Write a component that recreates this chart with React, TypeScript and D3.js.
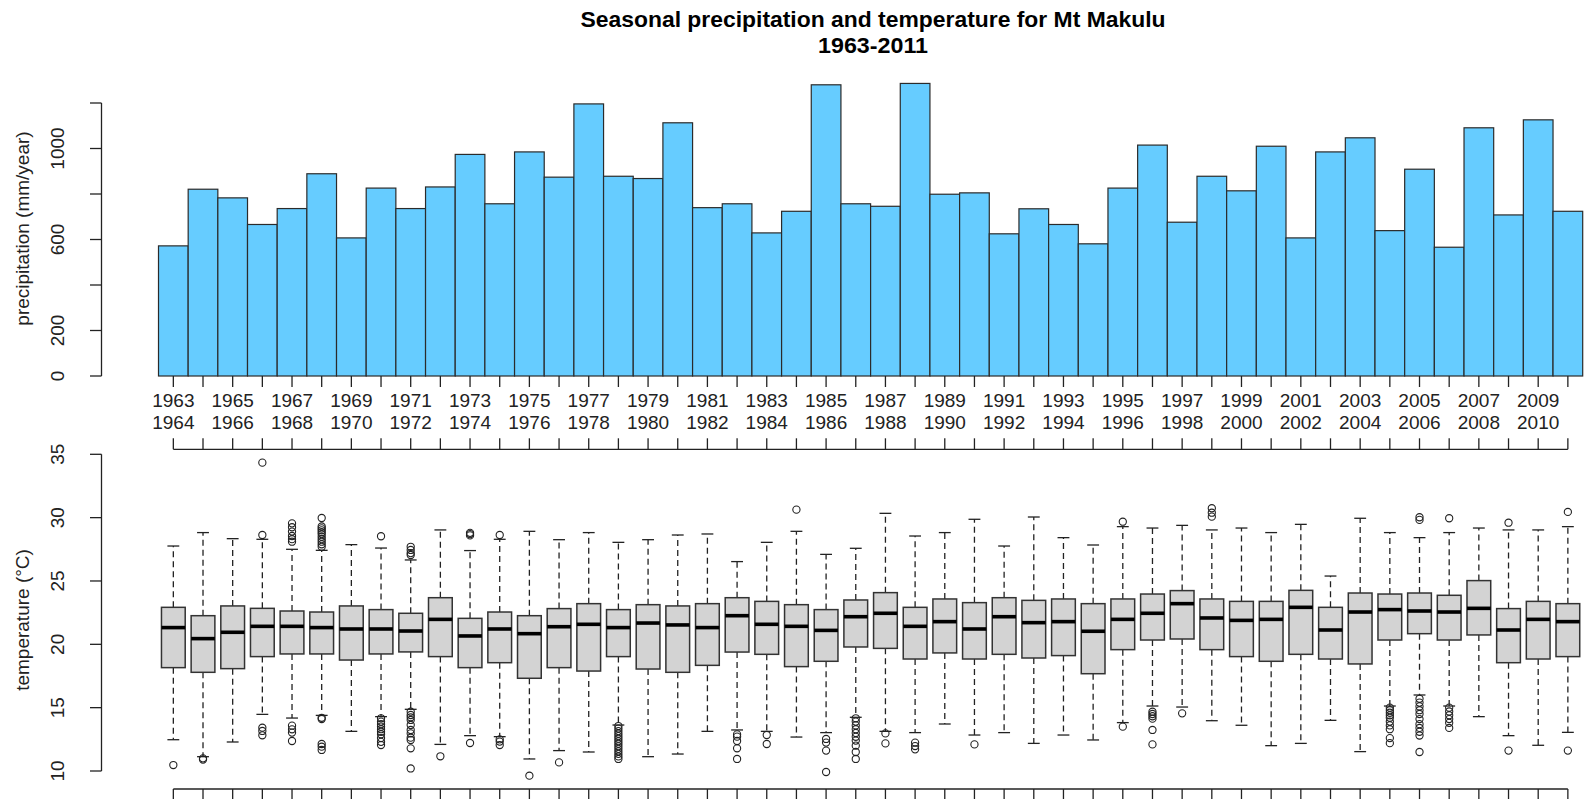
import React from "react";
import * as d3 from "d3";

// Seasons: first year of each rainy season (season runs into the next year)
const seasonStart = [
  1963, 1964, 1965, 1966, 1967, 1968, 1969, 1970, 1971, 1972, 1973, 1974,
  1975, 1976, 1977, 1978, 1979, 1980, 1981, 1982, 1983, 1984, 1985, 1986,
  1987, 1988, 1989, 1990, 1991, 1992, 1993, 1994, 1995, 1996, 1997, 1998,
  1999, 2000, 2001, 2002, 2003, 2004, 2005, 2006, 2007, 2008, 2009, 2010,
];

// Seasonal precipitation totals (mm/year)
const precipitation = [
  572, 821, 783, 666, 736, 889, 607, 826, 736, 831, 974, 757,
  985, 874, 1196, 878, 868, 1113, 740, 757, 629, 724, 1280, 757,
  746, 1286, 799, 805, 625, 735, 666, 581, 826, 1015, 676, 878,
  814, 1010, 607, 985, 1047, 639, 909, 566, 1091, 708, 1126, 724,
];

// Temperature box statistics per season (°C)
const tempLow = [
  12.47, 11.13, 12.29, 14.47, 14.18, 14.39, 13.13, 14.29, 14.87, 12.1, 12.79, 12.71,
  10.95, 11.61, 11.5, 13.63, 11.13, 11.34, 13.13, 13.24, 13.13, 12.68, 13.03, 14.24,
  13.13, 13.03, 13.71, 12.84, 13.03, 12.18, 12.84, 12.45, 13.82, 15.13, 15.05, 13.97,
  13.61, 12.0, 12.18, 14.0, 11.53, 15.13, 16.0, 15.13, 14.29, 12.79, 12.03, 13.05,
];
const tempQ1 = [
  18.16, 17.79, 18.08, 19.03, 19.24, 19.24, 18.76, 19.24, 19.4, 19.03, 18.16, 18.55,
  17.32, 18.16, 17.89, 19.03, 18.05, 17.79, 18.34, 19.39, 19.21, 18.24, 18.66, 19.79,
  19.68, 18.84, 19.32, 18.84, 19.21, 18.92, 19.11, 17.68, 19.58, 20.34, 20.42, 19.58,
  19.03, 18.66, 19.21, 18.84, 18.45, 20.34, 20.84, 20.34, 20.74, 18.55, 18.84, 19.03,
];
const tempMedian = [
  21.32, 20.45, 20.95, 21.42, 21.42, 21.32, 21.21, 21.21, 21.05, 21.97, 20.66, 21.21,
  20.84, 21.39, 21.58, 21.32, 21.68, 21.53, 21.32, 22.26, 21.58, 21.42, 21.1, 22.18,
  22.45, 21.42, 21.79, 21.21, 22.18, 21.71, 21.79, 21.03, 21.97, 22.45, 23.21, 22.08,
  21.89, 21.97, 22.92, 21.13, 22.55, 22.74, 22.63, 22.55, 22.84, 21.13, 21.97, 21.79,
];
const tempQ3 = [
  22.92, 22.26, 23.03, 22.84, 22.63, 22.55, 23.03, 22.74, 22.45, 23.68, 22.05, 22.55,
  22.26, 22.82, 23.21, 22.74, 23.13, 23.03, 23.21, 23.68, 23.39, 23.13, 22.74, 23.5,
  24.08, 22.92, 23.58, 23.29, 23.68, 23.47, 23.58, 23.21, 23.58, 23.97, 24.24, 23.58,
  23.39, 23.39, 24.26, 22.92, 24.05, 23.97, 24.05, 23.87, 25.03, 22.82, 23.39, 23.21,
];
const tempHigh = [
  27.76, 28.82, 28.34, 28.29, 27.5, 27.42, 27.87, 27.6, 26.66, 29.03, 27.4, 28.29,
  28.92, 28.26, 28.82, 28.05, 28.26, 28.63, 28.71, 26.53, 28.05, 28.92, 27.1, 27.58,
  30.34, 28.55, 28.82, 29.87, 27.76, 30.05, 28.42, 27.84, 29.29, 29.18, 29.39, 29.03,
  29.18, 28.82, 29.47, 25.39, 29.95, 28.82, 28.42, 28.82, 29.18, 29.03, 29.03, 29.29,
];
const tempOutliers = [
  [10.47],
  [11.0, 10.9],
  [],
  [34.34, 28.63, 13.42, 13.16, 12.82],
  [29.55, 29.24, 28.9, 28.55, 28.3, 28.1, 13.58, 13.29, 13.03, 12.37],
  [29.97, 29.3, 29.15, 29.0, 28.85, 28.7, 28.5, 28.3, 28.1, 27.9, 27.7, 14.2, 14.1, 12.13, 11.92, 11.66],
  [],
  [28.53, 14.16, 13.9, 13.7, 13.5, 13.3, 13.1, 12.9, 12.6, 12.3, 12.05],
  [27.7, 27.45, 27.2, 27.05, 14.68, 14.42, 14.24, 14.03, 13.63, 13.24, 12.97, 12.63, 12.45, 11.79, 10.2],
  [11.16],
  [28.8, 28.7, 28.6, 12.21],
  [28.63, 12.5, 12.32, 12.05],
  [9.63],
  [10.68],
  [],
  [13.55, 13.35, 13.15, 12.95, 12.75, 12.55, 12.35, 12.15, 11.95, 11.75, 11.55, 11.35, 11.15, 10.95],
  [],
  [],
  [],
  [12.89, 12.71, 12.37, 11.79, 10.95],
  [12.84, 12.13],
  [30.63],
  [12.53, 12.24, 11.61, 9.92],
  [14.16, 13.9, 13.6, 13.3, 13.0, 12.7, 12.4, 12.0, 11.5, 10.95],
  [12.97, 12.18],
  [12.24, 11.97, 11.71],
  [],
  [12.1],
  [],
  [],
  [],
  [],
  [29.68, 13.5],
  [14.68, 14.5, 14.32, 14.13, 13.24, 12.1],
  [14.55],
  [30.74, 30.39, 30.08],
  [],
  [],
  [],
  [],
  [],
  [15.0, 14.8, 14.6, 14.4, 14.2, 13.9, 13.6, 13.3, 12.6, 12.2],
  [30.03, 29.82, 15.7, 15.4, 15.1, 14.8, 14.5, 14.1, 13.7, 13.4, 13.1, 12.8, 11.5],
  [29.95, 15.0, 14.7, 14.4, 14.1, 13.8, 13.4],
  [],
  [29.6, 11.61],
  [],
  [30.45, 11.61],
];

// Axis ticks and labels
const precipTicks = [0, 200, 400, 600, 800, 1000, 1200];
const precipTickLabels = [0, 200, 600, 1000];
const tempTicks = [10, 15, 20, 25, 30, 35];

const titleLines = ["Seasonal precipitation and temperature for Mt Makulu", "1963-2011"];
const precipLabel = "precipitation (mm/year)";
const tempLabel = "temperature (°C)";

const W = 1591;
const H = 799;
const FONT = "'Liberation Sans', Arial, Helvetica, sans-serif";
const INK = "#222";

export default function App() {
  const idx = seasonStart.map((_, i) => i);
  const x = d3.scaleBand<number>().domain(idx).range([158.5, 1582.7]).padding(0);
  const bw = x.bandwidth();
  const cx = (i: number) => (x(i) as number) + bw / 2;

  const yP = d3.scaleLinear().domain([0, 1200]).range([376, 103]);
  const yT = d3.scaleLinear().domain([10, 35]).range([771, 454.3]);

  const axisX = 101.5;
  const firstC = cx(0);
  const lastC = cx(idx.length - 1);

  const boxHalf = (bw * 0.8) / 2;
  const stapleHalf = boxHalf / 2;
  const titleX = 873;

  return (
    <svg
      width={W}
      height={H}
      style={{ position: "absolute", left: 0, top: 0, background: "#fff" }}
      fontFamily={FONT}
    >
      <rect x={0} y={0} width={W} height={H} fill="#fff" />

      {/* Title */}
      <text x={titleX} y={27} textAnchor="middle" fontSize={22} fontWeight="bold" fill="#000"
        textLength={585} lengthAdjust="spacingAndGlyphs">
        {titleLines[0]}
      </text>
      <text x={titleX} y={53} textAnchor="middle" fontSize={22} fontWeight="bold" fill="#000"
        textLength={110} lengthAdjust="spacingAndGlyphs">
        {titleLines[1]}
      </text>

      {/* Precipitation bars */}
      <g>
        {precipitation.map((v, i) => (
          <rect
            key={i}
            x={x(i)}
            y={yP(v)}
            width={bw}
            height={yP(0) - yP(v)}
            fill="#66CCFF"
            stroke="#2b2b2b"
            strokeWidth={1.2}
          />
        ))}
      </g>

      {/* Precipitation y axis */}
      <g stroke={INK} strokeWidth={1.3}>
        <line x1={axisX} x2={axisX} y1={yP(0)} y2={yP(1200)} />
        {precipTicks.map((t) => (
          <line key={t} x1={axisX - 11.5} x2={axisX} y1={yP(t)} y2={yP(t)} />
        ))}
      </g>
      {precipTickLabels.map((t) => (
        <text key={t} transform={`translate(64,${yP(t)}) rotate(-90)`} textAnchor="middle"
          fontSize={19} fill={INK}>
          {t}
        </text>
      ))}
      <text transform={`translate(29,228.5) rotate(-90)`} textAnchor="middle" fontSize={19} fill={INK}>
        {precipLabel}
      </text>

      {/* Season axis under the bars */}
      <g stroke={INK} strokeWidth={1.3}>
        {idx.map((i) => (
          <line key={i} x1={cx(i)} x2={cx(i)} y1={376} y2={387} />
        ))}
      </g>
      {idx.filter((i) => i % 2 === 0).map((i) => (
        <text key={i} x={cx(i)} textAnchor="middle" fontSize={19} fill={INK}>
          <tspan x={cx(i)} y={406.5}>{seasonStart[i]}</tspan>
          <tspan x={cx(i)} y={429}>{seasonStart[i] + 1}</tspan>
        </text>
      ))}

      {/* Upper axis of the temperature panel */}
      <g stroke={INK} strokeWidth={1.3}>
        <line x1={firstC} x2={lastC} y1={449.3} y2={449.3} />
        {idx.map((i) => (
          <line key={i} x1={cx(i)} x2={cx(i)} y1={449.3} y2={438.3} />
        ))}
      </g>

      {/* Temperature y axis */}
      <g stroke={INK} strokeWidth={1.3}>
        <line x1={axisX} x2={axisX} y1={yT(10)} y2={yT(35)} />
        {tempTicks.map((t) => (
          <line key={t} x1={axisX - 11.5} x2={axisX} y1={yT(t)} y2={yT(t)} />
        ))}
      </g>
      {tempTicks.map((t) => (
        <text key={t} transform={`translate(64,${yT(t)}) rotate(-90)`} textAnchor="middle"
          fontSize={19} fill={INK}>
          {t}
        </text>
      ))}
      <text transform={`translate(29,620) rotate(-90)`} textAnchor="middle" fontSize={19} fill={INK}>
        {tempLabel}
      </text>

      {/* Temperature box plots */}
      <g>
        {idx.map((i) => {
          const c = cx(i);
          return (
            <g key={i}>
              <line x1={c} x2={c} y1={yT(tempQ3[i])} y2={yT(tempHigh[i])} stroke={INK}
                strokeWidth={1.3} strokeDasharray="6,4" />
              <line x1={c} x2={c} y1={yT(tempQ1[i])} y2={yT(tempLow[i])} stroke={INK}
                strokeWidth={1.3} strokeDasharray="6,4" />
              <line x1={c - stapleHalf} x2={c + stapleHalf} y1={yT(tempHigh[i])} y2={yT(tempHigh[i])}
                stroke={INK} strokeWidth={1.3} />
              <line x1={c - stapleHalf} x2={c + stapleHalf} y1={yT(tempLow[i])} y2={yT(tempLow[i])}
                stroke={INK} strokeWidth={1.3} />
              <rect x={c - boxHalf} y={yT(tempQ3[i])} width={boxHalf * 2}
                height={yT(tempQ1[i]) - yT(tempQ3[i])} fill="#D3D3D3" stroke="#333"
                strokeWidth={1.5} />
              <line x1={c - boxHalf} x2={c + boxHalf} y1={yT(tempMedian[i])} y2={yT(tempMedian[i])}
                stroke="#000" strokeWidth={3.6} />
              {tempOutliers[i].map((o, k) => (
                <circle key={k} cx={c} cy={yT(o)} r={3.6} fill="none" stroke={INK} strokeWidth={1.1} />
              ))}
            </g>
          );
        })}
      </g>

      {/* Lower axis of the temperature panel */}
      <g stroke={INK} strokeWidth={1.3}>
        <line x1={firstC} x2={lastC} y1={789} y2={789} />
        {idx.map((i) => (
          <line key={i} x1={cx(i)} x2={cx(i)} y1={789} y2={800} />
        ))}
      </g>
    </svg>
  );
}
